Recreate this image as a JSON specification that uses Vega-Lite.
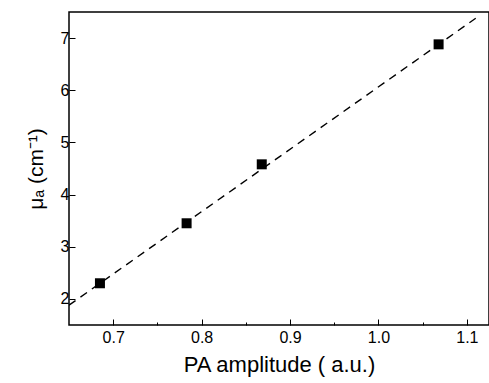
{
  "$schema": "https://vega.github.io/schema/vega-lite/v6.json",
  "autosize": "none",
  "width": 420,
  "height": 313,
  "padding": {"left": 69, "top": 12, "right": 0, "bottom": 58},
  "background": "white",
  "config": {
    "view": {"stroke": "black", "strokeWidth": 1.5},
    "font": "Liberation Sans"
  },
  "datasets": {
    "pts": [
      {"amp": 0.685, "mua": 2.30},
      {"amp": 0.783, "mua": 3.45},
      {"amp": 0.868, "mua": 4.58},
      {"amp": 1.068, "mua": 6.88}
    ],
    "fit": [
      {"amp": 0.65, "mua": 1.88},
      {"amp": 1.11, "mua": 7.38}
    ]
  },
  "layer": [
    {
      "data": {"name": "fit"},
      "mark": {"type": "line", "color": "black", "strokeWidth": 1.4, "strokeDash": [8, 6], "clip": true},
      "encoding": {
        "x": {"field": "amp", "type": "quantitative",
          "scale": {"domain": [0.65, 1.125], "nice": false, "zero": false},
          "axis": {
            "title": "PA amplitude ( a.u.)",
            "titleFontSize": 22, "titleFontWeight": "normal", "titleColor": "black", "titlePadding": 9,
            "values": [0.7, 0.75, 0.8, 0.85, 0.9, 0.95, 1.0, 1.05, 1.1],
            "labelExpr": "(round(datum.value*100) % 10 == 0) ? format(datum.value, '.1f') : ''",
            "labelFontSize": 16, "labelColor": "black", "labelPadding": 10,
            "tickColor": "black", "tickWidth": 1,
            "tickSize": {"condition": {"test": "round(datum.value*100) % 10 == 0", "value": -6}, "value": -3},
            "domain": false, "grid": false, "labelFlush": false
          }
        },
        "y": {"field": "mua", "type": "quantitative",
          "scale": {"domain": [1.5, 7.5], "nice": false, "zero": false},
          "axis": {
            "title": "μₐ (cm⁻¹)",
            "titleFontSize": 21, "titleFontWeight": "normal", "titleColor": "black", "titlePadding": 14,
            "values": [2, 2.5, 3, 3.5, 4, 4.5, 5, 5.5, 6, 6.5, 7],
            "labelExpr": "(datum.value % 1 == 0) ? format(datum.value, 'd') : ''",
            "labelFontSize": 16, "labelColor": "black", "labelPadding": 6,
            "tickColor": "black", "tickWidth": 1,
            "tickSize": {"condition": {"test": "datum.value % 1 == 0", "value": -6}, "value": -3},
            "domain": false, "grid": false, "labelFlush": false
          }
        }
      }
    },
    {
      "data": {"name": "pts"},
      "mark": {"type": "point", "shape": "square", "filled": true, "color": "black", "size": 100, "opacity": 1},
      "encoding": {
        "x": {"field": "amp", "type": "quantitative"},
        "y": {"field": "mua", "type": "quantitative"}
      }
    }
  ]
}
